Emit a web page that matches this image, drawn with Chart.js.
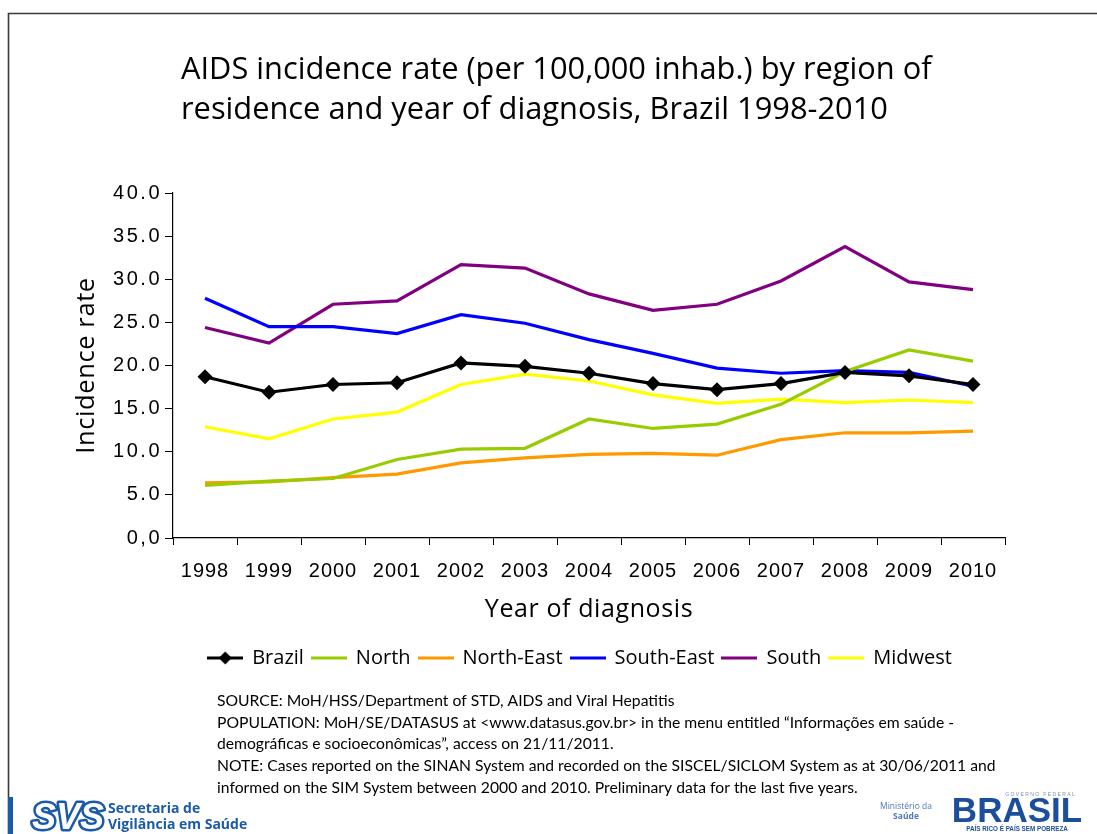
<!DOCTYPE html>
<html>
<head>
<meta charset="utf-8">
<title>AIDS incidence rate by region, Brazil 1998-2010</title>
<script src="https://cdn.jsdelivr.net/npm/chart.js@4.4.1/dist/chart.umd.min.js"></script>
<style>
  html, body { margin: 0; padding: 0; background: #ffffff; }
  #wrap { width: 1097px; height: 834px; position: relative; }
</style>
</head>
<body>
<div id="wrap"><canvas id="c" width="1097" height="834"></canvas></div>
<script>
// Years of diagnosis (category axis)
const years = ['1998', '1999', '2000', '2001', '2002', '2003', '2004', '2005', '2006', '2007', '2008', '2009', '2010'];

// Incidence rate per 100,000 inhabitants, by region of residence
const brazil    = [18.7, 16.9, 17.8, 18.0, 20.3, 19.9, 19.1, 17.9, 17.2, 17.9, 19.2, 18.8, 17.8];
const north     = [6.1, 6.6, 6.9, 9.1, 10.3, 10.4, 13.8, 12.7, 13.2, 15.5, 19.3, 21.8, 20.5];
const northEast = [6.4, 6.5, 7.0, 7.4, 8.7, 9.3, 9.7, 9.8, 9.6, 11.4, 12.2, 12.2, 12.4];
const southEast = [27.8, 24.5, 24.5, 23.7, 25.9, 24.9, 23.0, 21.4, 19.7, 19.1, 19.4, 19.2, 17.6];
const south     = [24.4, 22.6, 27.1, 27.5, 31.7, 31.3, 28.3, 26.4, 27.1, 29.8, 33.8, 29.7, 28.8];
const midwest   = [12.9, 11.5, 13.8, 14.6, 17.8, 19.0, 18.2, 16.6, 15.6, 16.1, 15.7, 16.0, 15.7];

// Y axis tick labels (0 is written with a decimal comma)
const yTickLabels = ['0,0', '5.0', '10.0', '15.0', '20.0', '25.0', '30.0', '35.0', '40.0'];

const seriesNames = ['Brazil', 'North', 'North-East', 'South-East', 'South', 'Midwest'];
const seriesData = [brazil, north, northEast, southEast, south, midwest];
const seriesColors = ['#000000', '#99cc00', '#ff9900', '#0000ff', '#800080', '#ffff00'];

const titleLines = [
  'AIDS incidence rate (per 100,000 inhab.) by region of',
  'residence and year of diagnosis, Brazil 1998-2010'
];
const footnoteLines = [
  'SOURCE: MoH/HSS/Department of STD, AIDS and Viral Hepatitis',
  'POPULATION: MoH/SE/DATASUS at <www.datasus.gov.br> in the menu entitled \u201cInforma\u00e7\u00f5es em sa\u00fade -',
  'demogr\u00e1ficas e socioecon\u00f4micas\u201d, access on 21/11/2011.',
  'NOTE: Cases reported on the SINAN System and recorded on the SISCEL/SICLOM System as at 30/06/2011 and',
  'informed on the SIM System between 2000 and 2010. Preliminary data for the last five years.'
];

// Legend swatches: a short line, with a diamond for the national series
function legendSwatch(color, withDiamond) {
  const cv = document.createElement('canvas');
  cv.width = 36; cv.height = 16;
  const g = cv.getContext('2d');
  g.strokeStyle = color;
  g.lineWidth = 3;
  g.beginPath(); g.moveTo(0, 8); g.lineTo(36, 8); g.stroke();
  if (withDiamond) {
    g.fillStyle = color;
    g.beginPath(); g.moveTo(18, 1.5); g.lineTo(24.5, 8); g.lineTo(18, 14.5); g.lineTo(11.5, 8); g.closePath(); g.fill();
  }
  return cv;
}
const swatches = seriesColors.map((c, i) => legendSwatch(c, i === 0));

const datasets = seriesNames.map((name, i) => ({
  label: name,
  data: seriesData[i],
  borderColor: seriesColors[i],
  backgroundColor: seriesColors[i],
  borderWidth: 3.2,
  tension: 0,
  fill: false,
  pointStyle: 'rectRot',
  pointRadius: i === 0 ? 7.5 : 0,
  pointHoverRadius: i === 0 ? 7.5 : 0,
  pointBorderWidth: 0
}));

// Slightly tracked-out axis text
const axisSpacing = {
  id: 'axisSpacing',
  beforeDraw(chart) {
    const spacing = { x: '1px', y: '2.5px' };
    Object.keys(spacing).forEach((id) => {
      const scale = chart.scales[id];
      if (!scale || scale._spaced) return;
      scale._spaced = true;
      const proto = Object.getPrototypeOf(scale);
      scale.drawLabels = function (area) {
        const ctx = this.ctx;
        const prev = ctx.letterSpacing;
        ctx.letterSpacing = spacing[id];
        proto.drawLabels.call(this, area);
        ctx.letterSpacing = prev || '0px';
      };
      scale.drawTitle = function () {
        const ctx = this.ctx;
        const prev = ctx.letterSpacing;
        ctx.letterSpacing = '0.6px';
        proto.drawTitle.call(this);
        ctx.letterSpacing = prev || '0px';
      };
    });
  }
};

// Centre the legend row under the plot area rather than the whole canvas
const legendShift = {
  id: 'legendShift',
  afterLayout(chart) {
    const lg = chart.legend;
    if (!lg) return;
    const dx = (chart.chartArea.left + chart.chartArea.right) / 2 - (lg.left + lg.right) / 2 - 9;
    lg.left += dx;
    lg.right += dx;
  }
};

// Frame, title, footnotes and logos drawn around the chart
const decorations = {
  id: 'decorations',
  afterDraw(chart) {
    const ctx = chart.ctx;
    ctx.save();
    // frame
    ctx.strokeStyle = '#3a3a3a';
    ctx.lineWidth = 1.6;
    ctx.beginPath();
    ctx.moveTo(1097, 13.5); ctx.lineTo(8.5, 13.5); ctx.lineTo(8.5, 834);
    ctx.stroke();
    ctx.fillStyle = '#1a5aa8';
    ctx.fillRect(8, 797, 5, 37);

    // title
    ctx.fillStyle = '#000000';
    ctx.textAlign = 'left';
    ctx.textBaseline = 'alphabetic';
    ctx.font = '30.8px "Open Sans"';
    ctx.fillText(titleLines[0], 181, 79);
    ctx.fillText(titleLines[1], 181, 119);

    // footnotes
    ctx.font = '15.7px Lato';
    footnoteLines.forEach((t, i) => ctx.fillText(t, 217, 706 + i * 21.7));

    // SVS logo
    ctx.font = 'italic bold 36px "Liberation Sans"';
    ctx.lineJoin = 'round';
    ctx.strokeStyle = '#1a5aa8';
    ctx.lineWidth = 5;
    ctx.strokeText('SVS', 32, 829);
    ctx.fillStyle = '#ffffff';
    ctx.fillText('SVS', 32, 829);
    ctx.fillStyle = '#1a5aa8';
    ctx.font = 'bold 14px "Open Sans"';
    ctx.fillText('Secretaria de', 108, 813);
    ctx.fillText('Vigil\u00e2ncia em Sa\u00fade', 108, 829);

    // Ministry and government marks
    ctx.textAlign = 'center';
    ctx.fillStyle = '#4f78b5';
    ctx.font = '8.5px "Open Sans"';
    ctx.fillText('Minist\u00e9rio da', 906, 809);
    ctx.font = 'bold 8.5px "Open Sans"';
    ctx.fillText('Sa\u00fade', 906, 819);
    ctx.fillStyle = '#1b4f9c';
    ctx.font = 'bold 35px "Liberation Sans"';
    ctx.fillText('BRASIL', 1017, 822);
    ctx.font = 'bold 6.3px "Liberation Sans"';
    ctx.fillText('PA\u00cdS RICO \u00c9 PA\u00cdS SEM POBREZA', 1017, 831);
    ctx.fillStyle = '#7a8fb5';
    ctx.font = '5px "Liberation Sans"';
    ctx.fillText('G O V E R N O   F E D E R A L', 1040, 796);
    ctx.restore();
  }
};

new Chart(document.getElementById('c'), {
  type: 'line',
  data: { labels: years, datasets: datasets },
  options: {
    responsive: false,
    animation: false,
    devicePixelRatio: 1,
    layout: { padding: { left: 70, right: 92, top: 193, bottom: 156 } },
    plugins: {
      title: { display: false },
      tooltip: { enabled: false },
      legend: {
        display: true,
        position: 'bottom',
        labels: {
          usePointStyle: true,
          pointStyleWidth: 34,
          boxHeight: 16,
          padding: 8,
          color: '#000000',
          font: { family: '"Open Sans"', size: 20 },
          generateLabels: (chart) => chart.data.datasets.map((ds, i) => ({
            text: ds.label,
            pointStyle: swatches[i],
            fillStyle: ds.borderColor,
            strokeStyle: ds.borderColor,
            lineWidth: 0,
            hidden: false,
            datasetIndex: i
          }))
        }
      }
    },
    scales: {
      x: {
        type: 'category',
        offset: true,
        afterFit: (s) => { s.height = 102; },
        grid: { display: true, offset: true, drawOnChartArea: false, drawTicks: true, tickLength: 7, color: '#000000', lineWidth: 1 },
        border: { display: true, color: '#000000', width: 1.2 },
        ticks: { color: '#000000', padding: 14.5, maxRotation: 0, autoSkip: false, font: { family: '"Liberation Sans"', size: 20 } },
        title: { display: true, text: 'Year of diagnosis', color: '#000000', padding: { top: 0, bottom: 15 }, font: { family: '"Open Sans"', size: 25 } }
      },
      y: {
        min: 0,
        max: 40,
        afterFit: (s) => { s.width = 103; },
        grid: { display: true, drawOnChartArea: false, drawTicks: true, tickLength: 8, color: '#000000', lineWidth: 1 },
        border: { display: true, color: '#000000', width: 1.2 },
        ticks: {
          stepSize: 5,
          color: '#000000',
          padding: 3,
          font: { family: '"Liberation Sans"', size: 20 },
          callback: (v) => yTickLabels[Math.round(v / 5)]
        },
        title: { display: true, text: 'Incidence rate', color: '#000000', padding: { top: 1, bottom: 0 }, font: { family: '"Open Sans"', size: 25.5 } }
      }
    }
  },
  plugins: [axisSpacing, legendShift, decorations]
});
</script>
</body>
</html>
